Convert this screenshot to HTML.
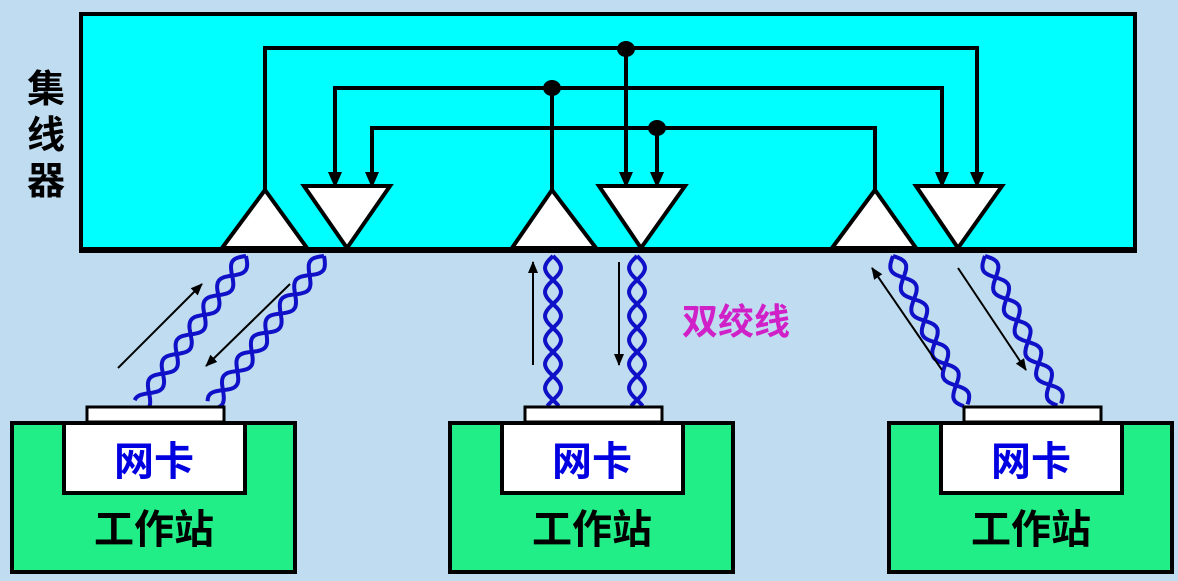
<!DOCTYPE html>
<html><head><meta charset="utf-8"><style>
html,body{margin:0;padding:0;background:#c0dcf0;}
svg{display:block}
text{font-family:"Liberation Sans","Noto Sans CJK SC",sans-serif;font-weight:bold}
</style></head><body>
<svg id="s" width="1178" height="581" xmlns="http://www.w3.org/2000/svg">
<defs><marker id="a" markerWidth="12" markerHeight="12" refX="11" refY="6" orient="auto" markerUnits="userSpaceOnUse"><path d="M0,1 L12,6 L0,11 z" fill="#000"/></marker></defs>
<rect width="1178" height="581" fill="#c0dcf0"/>
<rect x="81" y="14" width="1054" height="237" fill="#00ffff" stroke="#000" stroke-width="4"/>
<line x1="79" y1="250" x2="1137" y2="250" stroke="#000" stroke-width="6"/>
<g stroke="#000" stroke-width="4" fill="none">
<polyline points="265,190 265,48 977,48 977,180" />
<polyline points="335,180 335,88 942,88 942,180" />
<polyline points="372,180 372,128 875,128 875,190" />
<line x1="552" y1="88" x2="552" y2="190"/>
<line x1="626" y1="48" x2="626" y2="180"/>
<line x1="657" y1="128" x2="657" y2="180"/>
</g>
<g fill="#000">
<path d="M328,172 L342,172 L335,188z"/><path d="M365,172 L379,172 L372,188z"/>
<path d="M619,172 L633,172 L626,188z"/><path d="M650,172 L664,172 L657,188z"/>
<path d="M935,172 L949,172 L942,188z"/><path d="M970,172 L984,172 L977,188z"/>
<ellipse cx="626" cy="49" rx="9" ry="8"/><ellipse cx="552" cy="88" rx="9" ry="8"/><ellipse cx="657" cy="128" rx="9" ry="8"/>
</g>
<g fill="#fff" stroke="#000" stroke-width="4" stroke-linejoin="miter">
<path d="M265,190 L222,248 L307,248z"/><path d="M304,186 L390,186 L347,248z"/>
<path d="M552,190 L512,248 L596,248z"/><path d="M599,186 L685,186 L641,248z"/>
<path d="M875,190 L832,248 L916,248z"/><path d="M916,186 L1002,186 L958,248z"/>
</g>
<text x="46" y="102" font-size="38" text-anchor="middle">集</text>
<text x="46" y="148" font-size="38" text-anchor="middle">线</text>
<text x="46" y="194" font-size="38" text-anchor="middle">器</text>
<g id="tp" stroke="#1010c8" stroke-width="4" fill="none"></g>
<g stroke="#000" stroke-width="2">
<line x1="118" y1="368" x2="202" y2="284" marker-end="url(#a)"/>
<line x1="290" y1="284" x2="206" y2="366" marker-end="url(#a)"/>
<line x1="533" y1="365" x2="533" y2="262" marker-end="url(#a)"/>
<line x1="619" y1="262" x2="619" y2="365" marker-end="url(#a)"/>
<line x1="942" y1="370" x2="872" y2="268" marker-end="url(#a)"/>
<line x1="958" y1="268" x2="1026" y2="370" marker-end="url(#a)"/>
</g>
<text x="736" y="334" font-size="36" fill="#d020c8" text-anchor="middle">双绞线</text>
<g stroke="#000" stroke-width="4">
<rect x="12" y="423" width="283" height="149" fill="#22ee88"/>
<rect x="450" y="423" width="283" height="149" fill="#22ee88"/>
<rect x="889" y="423" width="283" height="149" fill="#22ee88"/>
<rect x="64" y="423" width="181" height="70" fill="#fff"/>
<rect x="502" y="423" width="181" height="70" fill="#fff"/>
<rect x="941" y="423" width="181" height="70" fill="#fff"/>
<rect x="87" y="407" width="137" height="15" fill="#fff" stroke-width="3"/>
<rect x="525" y="407" width="137" height="15" fill="#fff" stroke-width="3"/>
<rect x="964" y="407" width="137" height="15" fill="#fff" stroke-width="3"/>
</g>
<g font-size="40" text-anchor="middle">
<text x="154" y="475" fill="#0000e0">网卡</text>
<text x="592" y="475" fill="#0000e0">网卡</text>
<text x="1031" y="475" fill="#0000e0">网卡</text>
<text x="154" y="543" fill="#000">工作站</text>
<text x="592" y="543" fill="#000">工作站</text>
<text x="1031" y="543" fill="#000">工作站</text>
</g>
</svg>
<script>
var g=document.getElementById('tp');
function tp(x1,y1,x2,y2){
 var dx=x2-x1,dy=y2-y1,L=Math.hypot(dx,dy),nx=-dy/L,ny=dx/L,per=48,A=8;
 for(var ph=0;ph<2;ph++){var d='';
  for(var t=0;t<=L;t+=2){var o=A*Math.sin(t/per*2*Math.PI+ph*Math.PI);
   var x=x1+dx*t/L+nx*o,y=y1+dy*t/L+ny*o;d+=(t?'L':'M')+x.toFixed(1)+','+y.toFixed(1);}
  var p=document.createElementNS('http://www.w3.org/2000/svg','path');p.setAttribute('d',d);g.appendChild(p);}
}
tp(246,256,140,406);tp(324,256,211,406);
tp(553,256,553,406);tp(637,256,637,406);
tp(893,256,966,406);tp(985,256,1060,406);
</script>
</body></html>
